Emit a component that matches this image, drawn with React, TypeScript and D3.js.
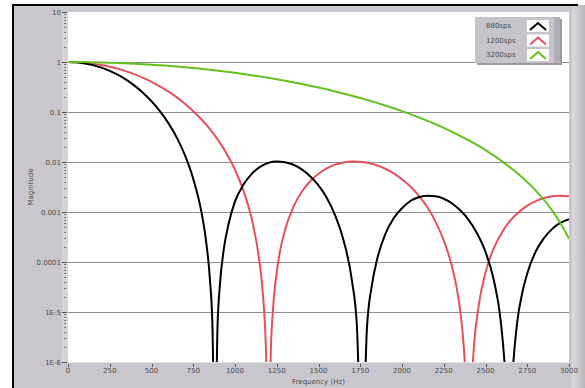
import React, { useEffect, useRef } from 'react';
import * as d3 from 'd3';

// frequencies (Hz) and magnitudes
const freq880 = [0, 50, 100, 150, 200, 250, 300, 350, 400, 450, 500, 550, 600, 650, 700, 750, 800, 825, 850, 865, 880, 895, 910, 935, 960, 1000, 1050, 1100, 1150, 1200, 1250, 1300, 1350, 1400, 1450, 1500, 1550, 1600, 1650, 1700, 1730, 1760, 1790, 1820, 1850, 1900, 1950, 2000, 2050, 2100, 2150, 2200, 2250, 2300, 2350, 2400, 2450, 2500, 2550, 2590, 2620, 2640, 2660, 2690, 2720, 2750, 2800, 2850, 2900, 2950, 3000];
const mag880 = [1, 0.984, 0.938, 0.866, 0.772, 0.664, 0.55, 0.438, 0.333, 0.241, 0.164, 0.104, 0.0606, 0.0314, 0.0137, 0.0046, 0.00096, 0.00029, 4.4e-5, 5.2e-6, 1e-8, 4.7e-6, 3.6e-5, 2.0e-4, 5.5e-4, 0.00163, 0.0035, 0.0058, 0.008, 0.0096, 0.0102, 0.0099, 0.0088, 0.0071, 0.0052, 0.0034, 0.0019, 0.00085, 0.00027, 4.3e-5, 5.2e-6, 1e-8, 4.7e-6, 3.5e-5, 1.1e-4, 3.6e-4, 7.5e-4, 0.00119, 0.00166, 0.00197, 0.00211, 0.00206, 0.00184, 0.00148, 0.00107, 0.00069, 0.00037, 1.6e-4, 4.3e-5, 7.1e-6, 4.4e-7, 1e-8, 4.2e-7, 6.3e-6, 2.4e-5, 5.9e-5, 1.6e-4, 3.0e-4, 4.6e-4, 6.1e-4, 7.2e-4];

const freq1200 = [0, 50, 100, 150, 200, 250, 300, 350, 400, 450, 500, 550, 600, 650, 700, 750, 800, 850, 900, 950, 1000, 1050, 1100, 1140, 1170, 1185, 1200, 1215, 1230, 1260, 1300, 1350, 1400, 1450, 1500, 1550, 1600, 1650, 1700, 1750, 1800, 1850, 1900, 1950, 2000, 2050, 2100, 2150, 2200, 2250, 2300, 2340, 2370, 2385, 2400, 2415, 2430, 2460, 2500, 2550, 2600, 2650, 2700, 2750, 2800, 2850, 2900, 2950, 3000];
const mag1200 = [1, 0.991, 0.966, 0.925, 0.871, 0.805, 0.73, 0.649, 0.566, 0.482, 0.402, 0.326, 0.258, 0.198, 0.146, 0.104, 0.0707, 0.0453, 0.027, 0.0147, 0.007, 0.0027, 0.00073, 1.44e-4, 1.7e-5, 2.0e-6, 1e-8, 1.9e-6, 1.45e-5, 1.07e-4, 4.4e-4, 0.00127, 0.00254, 0.00412, 0.00584, 0.00747, 0.00884, 0.00978, 0.0102, 0.0101, 0.00956, 0.00858, 0.00732, 0.00593, 0.00453, 0.00323, 0.00213, 0.00127, 0.00065, 2.7e-4, 7.9e-5, 1.7e-5, 2.0e-6, 2.5e-7, 1e-8, 2.4e-7, 1.9e-6, 1.4e-5, 6.2e-5, 1.9e-4, 4.0e-4, 6.8e-4, 0.001, 0.00134, 0.00165, 0.0019, 0.00206, 0.00212, 0.00206];

const freq3200 = [0, 100, 200, 300, 400, 500, 600, 700, 800, 900, 1000, 1100, 1200, 1300, 1400, 1500, 1600, 1700, 1800, 1900, 2000, 2100, 2200, 2300, 2400, 2500, 2600, 2700, 2800, 2900, 2950, 3000];
const mag3200 = [1, 0.995, 0.981, 0.957, 0.925, 0.886, 0.839, 0.787, 0.73, 0.67, 0.608, 0.545, 0.482, 0.421, 0.363, 0.309, 0.258, 0.212, 0.171, 0.135, 0.104, 0.0783, 0.057, 0.0401, 0.027, 0.0173, 0.0103, 0.0056, 0.0027, 0.00106, 0.00059, 0.00029];

const seriesNames = ['880sps', '1200sps', '3200sps'];
const seriesColors = ['#000000', '#e6505c', '#62c21c'];

const xTicks = [0, 250, 500, 750, 1000, 1250, 1500, 1750, 2000, 2250, 2500, 2750, 3000];
const yTicks = [10, 1, 0.1, 0.01, 0.001, 0.0001, 1e-5, 1e-6];
const yTickLabels = ['10', '1', '0.1', '0.01', '0.001', '0.0001', '1E-5', '1E-6'];

const W = 585;
const H = 388;

export default function App() {
  const ref = useRef<SVGSVGElement>(null);

  useEffect(() => {
    const svg = d3.select(ref.current);
    svg.selectAll('*').remove();

    const left = 68, right = 569, top = 12, bottom = 362;
    const font = 'DejaVu Sans';

    const x = d3.scaleLinear().domain([0, 3000]).range([left, right]);
    const y = d3.scaleLog().domain([1e-6, 10]).range([bottom, top]);

    // frame
    svg.append('rect').attr('x', 0).attr('y', 0).attr('width', W).attr('height', H).attr('fill', '#ffffff');
    svg.append('rect').attr('x', 13).attr('y', 5).attr('width', W - 13).attr('height', H - 5).attr('fill', '#c9c7cd');
    const grad = svg.append('defs').append('linearGradient').attr('id', 'rs').attr('x1', 0).attr('x2', 1);
    grad.append('stop').attr('offset', 0).attr('stop-color', '#dcdade');
    grad.append('stop').attr('offset', 1).attr('stop-color', '#b8b6bc');
    svg.append('rect').attr('x', 572).attr('y', 5).attr('width', 13).attr('height', H - 5).attr('fill', 'url(#rs)');
    svg.append('line').attr('x1', 12).attr('y1', 5).attr('x2', 578).attr('y2', 5).attr('stroke', '#000').attr('stroke-width', 2);
    svg.append('line').attr('x1', 13).attr('y1', 4).attr('x2', 13).attr('y2', H).attr('stroke', '#000').attr('stroke-width', 2);

    // lighter strip holding the y ticks
    svg.append('rect').attr('x', 62).attr('y', top).attr('width', left - 62).attr('height', bottom - top).attr('fill', '#d6d4d9');

    // plot area
    svg.append('rect').attr('x', left).attr('y', top).attr('width', right - left).attr('height', bottom - top).attr('fill', '#ffffff');
    svg.append('line').attr('x1', left).attr('y1', bottom + 0.5).attr('x2', right).attr('y2', bottom + 0.5).attr('stroke', '#e4e2e6');

    // grid
    svg.selectAll('grid')
      .data(yTicks.filter(d => d < 10 && d > 1e-6))
      .enter()
      .append('line')
      .attr('x1', left)
      .attr('x2', right)
      .attr('y1', d => Math.round(y(d)) + 0.5)
      .attr('y2', d => Math.round(y(d)) + 0.5)
      .attr('stroke', '#8e8e8e')
      .attr('stroke-width', 1);

    // minor y ticks
    const minors: number[] = [];
    for (let e = -6; e < 1; e++) {
      for (let k = 2; k < 10; k++) minors.push(k * Math.pow(10, e));
    }
    svg.selectAll('minor')
      .data(minors)
      .enter()
      .append('line')
      .attr('x1', 64)
      .attr('x2', 66)
      .attr('y1', d => Math.round(y(d)) + 0.5)
      .attr('y2', d => Math.round(y(d)) + 0.5)
      .attr('stroke', '#777');

    // major y ticks + labels
    svg.selectAll('ymaj')
      .data(yTicks)
      .enter()
      .append('line')
      .attr('x1', 62)
      .attr('x2', 67)
      .attr('y1', d => Math.round(y(d)) + 0.5)
      .attr('y2', d => Math.round(y(d)) + 0.5)
      .attr('stroke', '#555');
    svg.selectAll('ylab')
      .data(yTicks)
      .enter()
      .append('text')
      .attr('x', 61)
      .attr('y', d => y(d) + 2.5)
      .attr('text-anchor', 'end')
      .attr('font-family', font)
      .attr('font-size', 7)
      .attr('fill', '#4a4a4a')
      .text((d, i) => yTickLabels[i]);

    // x ticks + labels
    svg.selectAll('xmaj')
      .data(xTicks)
      .enter()
      .append('line')
      .attr('x1', d => Math.round(x(d)) + 0.5)
      .attr('x2', d => Math.round(x(d)) + 0.5)
      .attr('y1', bottom + 2)
      .attr('y2', bottom + 5)
      .attr('stroke', '#555');
    svg.selectAll('xlab')
      .data(xTicks)
      .enter()
      .append('text')
      .attr('x', d => x(d))
      .attr('y', bottom + 11)
      .attr('text-anchor', 'middle')
      .attr('font-family', font)
      .attr('font-size', 7)
      .attr('fill', '#4a4a4a')
      .text(d => String(d));

    // axis titles
    svg.append('text')
      .attr('transform', `translate(33,${(top + bottom) / 2}) rotate(-90)`)
      .attr('text-anchor', 'middle')
      .attr('font-family', font)
      .attr('font-size', 7)
      .attr('fill', '#4a4a4a')
      .text('Magnitude');
    svg.append('text')
      .attr('x', (left + right) / 2)
      .attr('y', bottom + 22)
      .attr('text-anchor', 'middle')
      .attr('font-family', font)
      .attr('font-size', 7)
      .attr('fill', '#4a4a4a')
      .text('Frequency (Hz)');

    // curves
    svg.append('defs').append('clipPath').attr('id', 'plotclip')
      .append('rect').attr('x', left).attr('y', top).attr('width', right - left).attr('height', bottom - top);

    const line = d3.line<[number, number]>()
      .x(d => x(d[0]))
      .y(d => y(d[1]))
      .curve(d3.curveMonotoneX);

    const data: [number, number][][] = [
      freq880.map((f, i) => [f, mag880[i]]),
      freq1200.map((f, i) => [f, mag1200[i]]),
      freq3200.map((f, i) => [f, mag3200[i]]),
    ];

    const g = svg.append('g').attr('clip-path', 'url(#plotclip)');
    [1, 0, 2].forEach(i => {
      g.append('path')
        .attr('d', line(data[i]))
        .attr('fill', 'none')
        .attr('stroke', seriesColors[i])
        .attr('stroke-width', 2);
    });

    // legend
    const lx = 475, ly = 17, lw = 85, lh = 46;
    svg.append('rect').attr('x', lx + 2).attr('y', ly + 2).attr('width', lw).attr('height', lh).attr('fill', '#9c9aa0');
    svg.append('rect').attr('x', lx).attr('y', ly).attr('width', lw).attr('height', lh).attr('fill', '#c6c4ca');
    svg.append('rect').attr('x', lx + lw - 6).attr('y', ly).attr('width', 6).attr('height', lh).attr('fill', '#b0aeb4');

    const rows = svg.selectAll('legrow')
      .data(seriesNames)
      .enter()
      .append('g')
      .attr('transform', (d, i) => `translate(${lx},${ly + 3 + i * 14.5})`);
    rows.append('text')
      .attr('x', 11)
      .attr('y', 8)
      .attr('font-family', font)
      .attr('font-size', 7)
      .attr('fill', '#4a4a4a')
      .text(d => d);
    rows.append('rect')
      .attr('x', 52)
      .attr('y', 0)
      .attr('width', 22)
      .attr('height', 12)
      .attr('fill', '#ffffff');
    rows.append('path')
      .attr('d', 'M55,10 L63,3 L71,10')
      .attr('fill', 'none')
      .attr('stroke', (d, i) => seriesColors[i])
      .attr('stroke-width', 2);
  }, []);

  return (
    <svg ref={ref} width={W} height={H} style={{ position: 'absolute', left: 0, top: 0 }} />
  );
}
